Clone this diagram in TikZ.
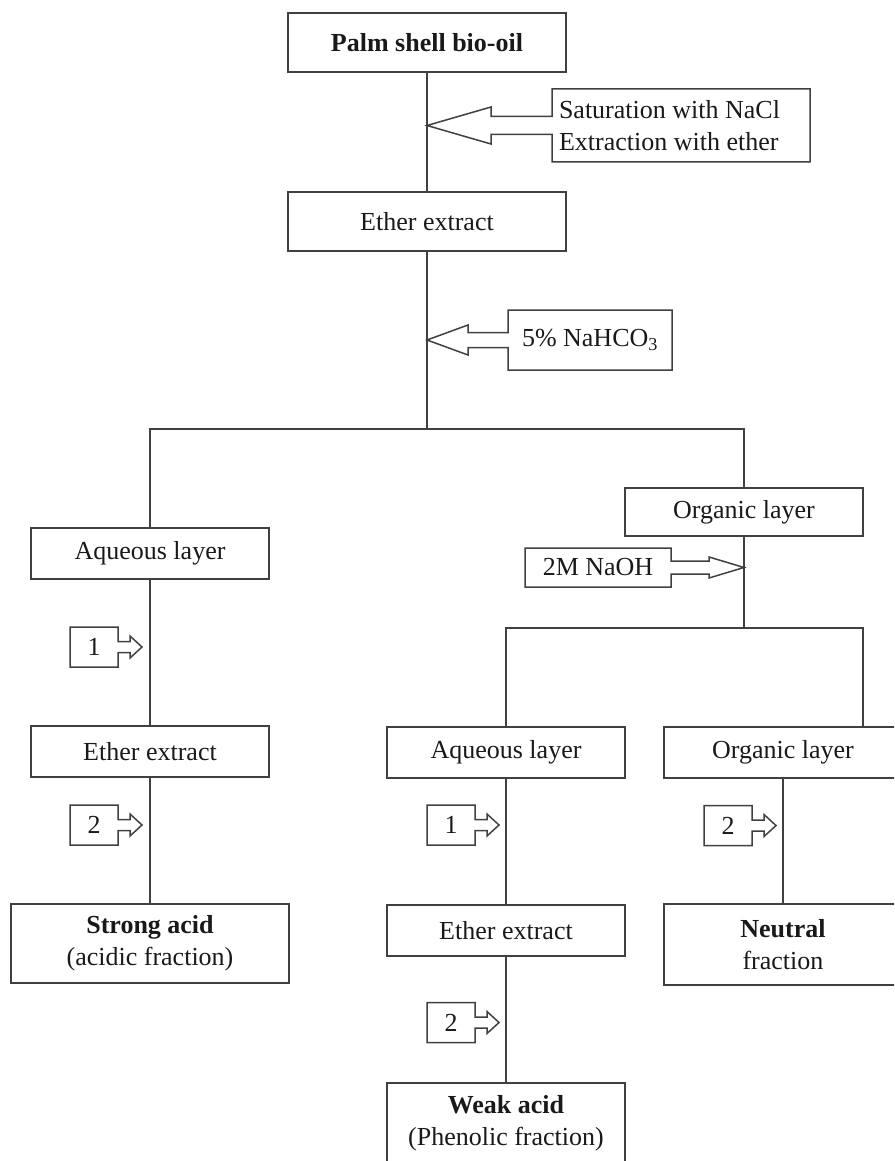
\documentclass[tikz,border=0pt]{standalone}
\usepackage{fontspec}
\setmainfont{Liberation Serif}
\usepackage{tikz}
\usetikzlibrary{calc}
\definecolor{linegray}{rgb}{0.25,0.25,0.25}
\definecolor{inkgray}{rgb}{0.1,0.1,0.1}

% box with a block arrow leaving its west side: box, tip, shaft half, head half, head length
\newcommand{\arrowboxleft}[5]{%
  \draw[flowline] ($(#1.west)+(0,-#3)$) -- (#1.north west) -- (#1.north east)
    -- (#1.south east) -- (#1.south west) -- ($(#1.west)+(0,#3)$)
    -- ($(#2)+(#5,#3)$) -- ($(#2)+(#5,#4)$) -- (#2)
    -- ($(#2)+(#5,-#4)$) -- ($(#2)+(#5,-#3)$) -- cycle;}
% same, leaving its east side
\newcommand{\arrowboxright}[5]{%
  \draw[flowline] ($(#1.east)+(0,-#3)$) -- (#1.north east) -- (#1.north west)
    -- (#1.south west) -- (#1.south east) -- ($(#1.east)+(0,#3)$)
    -- ($(#2)+(-#5,#3)$) -- ($(#2)+(-#5,#4)$) -- (#2)
    -- ($(#2)+(-#5,-#4)$) -- ($(#2)+(-#5,-#3)$) -- cycle;}

\begin{document}
\begin{tikzpicture}[x=1pt,y=-1pt,
  flowline/.style={draw=linegray, line width=1.5pt, line join=miter},
  addbox/.style={outer sep=0pt, inner sep=0pt, text=inkgray,
    font=\fontsize{26}{32}\selectfont, align=center},
  procbox/.style={addbox, draw=linegray, line width=1.5pt}]
  \useasboundingbox (0,0) rectangle (894,1161);
  \clip (0,0) rectangle (894,1161);

  % main column
  \node[procbox, minimum width=278, minimum height=59] (oil) at (427,42.5) {\textbf{Palm shell bio-oil}};
  \node[procbox, minimum width=278, minimum height=59] (ext1) at (427,221.5) {Ether extract};
  \node[addbox, minimum width=258, minimum height=73, text width=244, align=flush left, inner xsep=7] (sat) at (681,125.5)
    {Saturation with NaCl\\Extraction with ether};
  \node[addbox, minimum width=164, minimum height=60] (naco) at (590,340) {5\% NaHCO\textsubscript{3}};
  \coordinate (sattip) at (oil.south |- sat.west);
  \coordinate (nacotip) at (oil.south |- naco.west);
  \coordinate (split1) at (427,429);

  % first split
  \node[procbox, minimum width=238, minimum height=51] (aq1) at (150,553.5) {Aqueous layer};
  \node[procbox, minimum width=238, minimum height=48] (org1) at (744,512) {Organic layer};
  \node[addbox, minimum width=146, minimum height=39] (naoh) at (598,567.5) {2M NaOH};
  \coordinate (naohtip) at (org1.south |- naoh.east);
  \coordinate (split2) at (744,628);

  % lower rows
  \node[procbox, minimum width=238, minimum height=51] (ext2) at (150,751.5) {Ether extract};
  \node[procbox, minimum width=278, minimum height=79] (strong) at (150,943.5) {\textbf{Strong acid}\\(acidic fraction)};
  \node[procbox, minimum width=238, minimum height=51] (aq2) at (506,752.5) {Aqueous layer};
  \node[procbox, minimum width=238, minimum height=51] (ext3) at (506,930.5) {Ether extract};
  \node[procbox, minimum width=238, minimum height=80] (weak) at (506,1123) {\textbf{Weak acid}\\(Phenolic fraction)};
  \node[procbox, minimum width=238, minimum height=51] (org2) at (783,752.5) {Organic layer};
  \node[procbox, minimum width=238, minimum height=81] (neutral) at (783,944.5) {\textbf{Neutral}\\fraction};

  % connectors
  \draw[flowline] (oil) -- (ext1);
  \draw[flowline] (ext1) -- (split1);
  \draw[flowline] (aq1.north) |- (split1) -| (org1.north);
  \draw[flowline] (org1) -- (split2);
  \draw[flowline] (aq2.north) |- (split2) -| (org2.north -| org1.east);
  \draw[flowline] (aq1) -- (ext2);
  \draw[flowline] (ext2) -- (strong);
  \draw[flowline] (aq2) -- (ext3);
  \draw[flowline] (ext3) -- (weak);
  \draw[flowline] (org2) -- (neutral);

  % reagent arrows
  \arrowboxleft{sat}{sattip}{9}{18.5}{64}
  \arrowboxleft{naco}{nacotip}{7.5}{15}{41}
  \arrowboxright{naoh}{naohtip}{6.5}{10.5}{35}
  \foreach \n/\x/\y/\t in {s1/94/647/1, s2/94/825/2, m1/451/825/1, m2/451/1022.5/2, r2/728/825.5/2}
  {
    \node[addbox, minimum width=48, minimum height=40] (\n) at (\x,\y) {\t};
    \coordinate (\n tip) at ($(\n.east)+(24,0)$);
    \arrowboxright{\n}{\n tip}{5.5}{11}{12}
  }
\end{tikzpicture}
\end{document}
